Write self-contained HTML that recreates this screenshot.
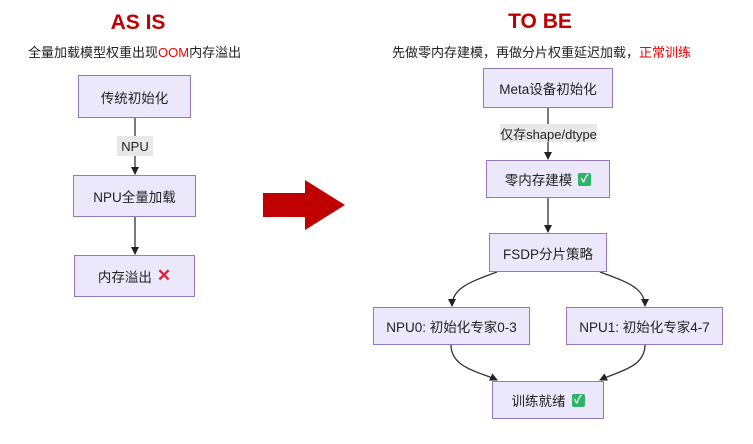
<!DOCTYPE html>
<html><head><meta charset="utf-8"><style>
body{margin:0;width:753px;height:444px;background:#fff;position:relative;overflow:hidden;font-family:"Liberation Sans","Noto Sans CJK SC",sans-serif;color:#222}
.t{position:absolute;color:#c00000;font-weight:bold;font-size:21px;text-align:center}
.s{position:absolute;font-size:13px;white-space:nowrap}
.b{position:absolute;box-sizing:border-box;background:#ece8fb;border:1.5px solid #9478c4;display:flex;align-items:center;justify-content:center;font-size:13.5px;white-space:nowrap}
.l{position:absolute;background:#e8e8e8;font-size:13px;display:flex;align-items:center;justify-content:center;white-space:nowrap}
.ck{display:inline-block;width:13px;height:13px;background:#2fb36a;color:#fff;font-size:11px;line-height:13px;text-align:center;border-radius:2px;margin-left:6px;font-weight:bold}
</style></head><body>
<div class="t" style="left:88px;top:11px;width:100px">AS IS</div>
<div class="s" style="left:28px;top:42px">全量加载模型权重出现<span style="color:#e00">OOM</span>内存溢出</div>
<div class="t" style="left:480px;top:10px;width:120px">TO BE</div>
<div class="s" style="left:392px;top:42px">先做零内存建模，再做分片权重延迟加载，<span style="color:#e00">正常训练</span></div>
<svg style="position:absolute;left:0;top:0" width="753" height="444">
<defs><marker id="a" markerWidth="8" markerHeight="8" refX="7" refY="4" orient="auto" markerUnits="userSpaceOnUse"><path d="M0,0L8,4L0,8z" fill="#222"/></marker></defs>
<g stroke="#333" stroke-width="1.3" fill="none">
<path d="M135 118V174" marker-end="url(#a)"/>
<path d="M135 217V254" marker-end="url(#a)"/>
<path d="M548 107V159" marker-end="url(#a)"/>
<path d="M548 198V232" marker-end="url(#a)"/>
<path d="M497 272C470 282 452 288 452 306" marker-end="url(#a)"/>
<path d="M600 272C627 282 645 288 645 306" marker-end="url(#a)"/>
<path d="M451 345C451 368 480 372 497 380" marker-end="url(#a)"/>
<path d="M645 345C645 368 616 372 600 380" marker-end="url(#a)"/>
</g>
<path d="M263 193H305V180L345 205L305 230V217H263z" fill="#c00000"/>
</svg>
<div class="b" style="left:78px;top:75px;width:113px;height:43px">传统初始化</div>
<div class="l" style="left:117px;top:136px;width:36px;height:20px">NPU</div>
<div class="b" style="left:73px;top:175px;width:123px;height:42px">NPU全量加载</div>
<div class="b" style="left:74px;top:255px;width:121px;height:42px">内存溢出 <span style="color:#e0203a;font-weight:bold;font-size:17px;margin-left:5px">✕</span></div>
<div class="b" style="left:483px;top:68px;width:130px;height:40px">Meta设备初始化</div>
<div class="l" style="left:500px;top:124px;width:97px;height:18px">仅存shape/dtype</div>
<div class="b" style="left:486px;top:160px;width:124px;height:38px">零内存建模<span class="ck">✓</span></div>
<div class="b" style="left:489px;top:233px;width:118px;height:39px">FSDP分片策略</div>
<div class="b" style="left:373px;top:307px;width:157px;height:38px">NPU0: 初始化专家0-3</div>
<div class="b" style="left:566px;top:307px;width:157px;height:38px">NPU1: 初始化专家4-7</div>
<div class="b" style="left:492px;top:381px;width:112px;height:38px">训练就绪<span class="ck">✓</span></div>
</body></html>
